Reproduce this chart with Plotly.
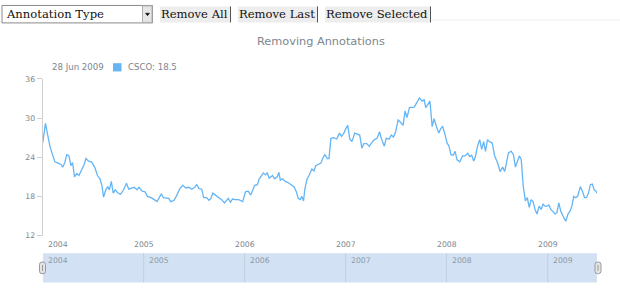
import plotly.graph_objects as go

W, H = 620, 300

# ---------------- data ----------------
dates = [
    "2004-01-02", "2004-01-12", "2004-01-21", "2004-01-28", "2004-02-05", "2004-02-15", "2004-02-27",
    "2004-03-08", "2004-03-15", "2004-03-22", "2004-03-29", "2004-04-06", "2004-04-13", "2004-04-19",
    "2004-04-26", "2004-05-04", "2004-05-12", "2004-05-22", "2004-05-31", "2004-06-06", "2004-06-16",
    "2004-06-26", "2004-07-08", "2004-07-18", "2004-07-27", "2004-08-03", "2004-08-09", "2004-08-17",
    "2004-08-24", "2004-08-30", "2004-09-06", "2004-09-13", "2004-09-20", "2004-09-28", "2004-10-09",
    "2004-10-19", "2004-10-31", "2004-11-08", "2004-11-18", "2004-11-28", "2004-12-08", "2004-12-15",
    "2004-12-27",
    "2005-01-06", "2005-01-15", "2005-01-28", "2005-02-08", "2005-02-18", "2005-02-25", "2005-03-06",
    "2005-03-13", "2005-03-23", "2005-04-02", "2005-04-09", "2005-04-21", "2005-05-01", "2005-05-12",
    "2005-05-22", "2005-06-03", "2005-06-13", "2005-06-24", "2005-07-04", "2005-07-12", "2005-07-20",
    "2005-07-30", "2005-08-06", "2005-08-17", "2005-08-25", "2005-09-01", "2005-09-08", "2005-09-19",
    "2005-09-29", "2005-10-10", "2005-10-20", "2005-10-27", "2005-11-03", "2005-11-11", "2005-11-18",
    "2005-11-29", "2005-12-11", "2005-12-25",
    "2006-01-04", "2006-01-14", "2006-01-23", "2006-01-30", "2006-02-06", "2006-02-16", "2006-02-23",
    "2006-03-03", "2006-03-10", "2006-03-17", "2006-03-24", "2006-03-31", "2006-04-12", "2006-04-19",
    "2006-04-29", "2006-05-05", "2006-05-10", "2006-05-18", "2006-05-28", "2006-06-08", "2006-06-18",
    "2006-06-28", "2006-07-07", "2006-07-14", "2006-07-21", "2006-07-27", "2006-08-02", "2006-08-07",
    "2006-08-15", "2006-08-22", "2006-09-01", "2006-09-09", "2006-09-15", "2006-09-24", "2006-10-04",
    "2006-10-11", "2006-10-18", "2006-10-27", "2006-11-02", "2006-11-09", "2006-11-19", "2006-11-30",
    "2006-12-10", "2006-12-17", "2006-12-26",
    "2007-01-02", "2007-01-09", "2007-01-16", "2007-01-24", "2007-02-03", "2007-02-13", "2007-02-21",
    "2007-03-01", "2007-03-08", "2007-03-18", "2007-03-28", "2007-04-05", "2007-04-15", "2007-04-25",
    "2007-05-04", "2007-05-11", "2007-05-21", "2007-05-28", "2007-06-08", "2007-06-15", "2007-06-23",
    "2007-07-01", "2007-07-10", "2007-07-18", "2007-07-28", "2007-08-04", "2007-08-11", "2007-08-20",
    "2007-08-27", "2007-09-06", "2007-09-16", "2007-09-25", "2007-10-05", "2007-10-12", "2007-10-18",
    "2007-10-27", "2007-11-02", "2007-11-10", "2007-11-17", "2007-11-24", "2007-12-04", "2007-12-11",
    "2007-12-18", "2007-12-25",
    "2008-01-03", "2008-01-10", "2008-01-17", "2008-01-25", "2008-02-01", "2008-02-08", "2008-02-18",
    "2008-02-28", "2008-03-08", "2008-03-18", "2008-03-25", "2008-04-01", "2008-04-08", "2008-04-15",
    "2008-04-22", "2008-04-30", "2008-05-07", "2008-05-14", "2008-05-21", "2008-05-28", "2008-06-04",
    "2008-06-14", "2008-06-23", "2008-07-03", "2008-07-13", "2008-07-22", "2008-07-29", "2008-08-05",
    "2008-08-12", "2008-08-22", "2008-08-30", "2008-09-06", "2008-09-13", "2008-09-20", "2008-09-27",
    "2008-10-04", "2008-10-12", "2008-10-19", "2008-10-26", "2008-11-02", "2008-11-09", "2008-11-16",
    "2008-11-23", "2008-12-01", "2008-12-08", "2008-12-15", "2008-12-22", "2008-12-29",
    "2009-01-05", "2009-01-12", "2009-01-19", "2009-01-27", "2009-02-03", "2009-02-10", "2009-02-17",
    "2009-02-24", "2009-03-03", "2009-03-07", "2009-03-15", "2009-03-22", "2009-03-29", "2009-04-05",
    "2009-04-12", "2009-04-19", "2009-04-29", "2009-05-07", "2009-05-14", "2009-05-21", "2009-05-28",
    "2009-06-04", "2009-06-11", "2009-06-18", "2009-06-24", "2009-06-28",
]

csco = [
    26.2, 29.2, 27.2, 25.7, 24.6, 23.3, 23.1,
    22.9, 22.5, 23.2, 24.4, 24.2, 22.7, 23.2,
    21.0, 21.5, 21.2, 22.0, 22.9, 23.8, 23.4,
    23.3, 22.5, 21.2, 20.7, 19.7, 17.9, 19.0,
    19.5, 19.0, 20.3, 18.5, 19.0, 18.6, 18.3,
    18.9, 20.0, 19.1, 19.2, 19.4, 19.0, 19.4,
    18.8,
    18.7, 18.0, 17.8, 17.5, 17.2, 17.7, 18.4,
    17.8, 17.8, 17.7, 17.2, 17.4, 18.2, 19.2,
    19.7, 19.3, 19.4, 19.1, 19.4, 19.8, 19.2,
    19.1, 17.8, 17.8, 17.4, 17.7, 18.5, 18.2,
    17.9, 17.5, 17.0, 17.3, 17.7, 17.1, 17.6,
    17.5, 17.5, 17.2,
    18.7, 18.8, 18.2, 18.9, 19.7, 19.8, 20.7,
    21.2, 21.6, 21.3, 21.6, 20.8, 21.2, 20.7,
    21.0, 21.7, 20.5, 20.7, 20.3, 20.1, 19.8,
    19.5, 18.7, 17.7, 17.5, 18.0, 17.3, 19.2,
    20.7, 21.2, 22.2, 21.9, 22.7, 22.9, 23.1,
    23.9, 24.4, 23.8, 23.8, 26.9, 27.0, 26.8,
    27.7, 27.2, 27.7,
    28.4, 28.9, 26.8, 26.4, 27.7, 27.5, 27.4,
    25.4, 26.1, 26.1, 25.7, 26.2, 26.7, 26.9,
    27.9, 26.8, 25.7, 26.9, 26.8, 27.4, 27.1,
    27.9, 29.7, 29.4, 28.9, 31.1, 30.1, 31.6,
    31.6, 31.7, 32.4, 33.1, 32.6, 32.8, 31.6,
    32.1, 32.6, 28.7, 29.9, 28.9, 27.7, 28.4,
    28.7, 27.7,
    26.2, 25.7, 24.4, 24.3, 24.9, 23.6, 23.3,
    24.2, 24.2, 24.6, 24.1, 24.3, 23.4, 24.2,
    25.7, 26.7, 25.2, 26.4, 24.9, 26.7, 26.4,
    26.2, 24.2, 23.2, 21.8, 22.5, 21.8, 23.2,
    24.7, 24.9, 24.4, 22.5, 23.4, 24.2, 23.7,
    19.7, 17.3, 17.8, 16.3, 17.5, 17.2, 16.0,
    15.3, 16.5, 16.0, 16.8, 16.5, 16.5,
    16.7, 16.0, 15.7, 15.3, 15.5, 17.0, 15.7,
    15.0, 14.5, 14.2, 15.3, 15.7, 16.5, 18.0,
    17.8, 18.0, 19.5, 18.7, 17.8, 17.8, 18.5,
    19.8, 19.9, 19.0, 18.8, 18.5,
]

series_name = "CSCO"
legend_date = "28 Jun 2009"
year_ticks = ["2004-01-01", "2005-01-01", "2006-01-01", "2007-01-01", "2008-01-01", "2009-01-01"]
year_labels = ["2004", "2005", "2006", "2007", "2008", "2009"]
y_ticks = [12, 18, 24, 30, 36]
title_text = "Removing Annotations"
select_text = "Annotation Type"
buttons = ["Remove All", "Remove Last", "Remove Selected"]

# ---------------- helpers (pixel -> paper) ----------------
def px(x):
    return x / W


def py(y):
    return 1 - y / H


LINE = "#64b5f6"
TXT = "#7c868e"
FONT = "DejaVu Sans"

fig = go.Figure()
fig.add_trace(go.Scatter(
    x=dates, y=csco, mode="lines", name=series_name,
    line=dict(color=LINE, width=1.3), hoverinfo="skip", showlegend=False,
))

shapes = []
annotations = []

# ---- toolbar ----
# select box
shapes.append(dict(type="rect", xref="paper", yref="paper", x0=px(2), x1=px(152.5), y0=py(19.5), y1=py(1.5),
                   line=dict(color="#8a8a8a", width=1), fillcolor="#ffffff", layer="above"))
shapes.append(dict(type="rect", xref="paper", yref="paper", x0=px(142.5), x1=px(152), y0=py(19), y1=py(2),
                   line=dict(color="#b0b0b0", width=1), fillcolor="#e6e6e6", layer="above"))
shapes.append(dict(type="path", xref="paper", yref="paper",
                   path=f"M {px(145.5)} {py(9.5)} L {px(149.5)} {py(9.5)} L {px(147.5)} {py(12)} Z",
                   fillcolor="#000000", line=dict(color="#000000", width=0.5), layer="above"))
annotations.append(dict(text=select_text, xref="paper", yref="paper", x=px(4), y=py(10.5),
                        xanchor="left", yanchor="middle", showarrow=False,
                        font=dict(family="DejaVu Serif", size=11.6, color="#111111")))

btn_boxes = [(160, 231), (238, 318), (325, 431)]
for label, (bx0, bx1) in zip(buttons, btn_boxes):
    shapes.append(dict(type="rect", xref="paper", yref="paper", x0=px(bx0), x1=px(bx1), y0=py(19), y1=py(2.5),
                       line=dict(width=0), fillcolor="#ededed", layer="above"))
    shapes.append(dict(type="line", xref="paper", yref="paper", x0=px(bx1 - 0.5), x1=px(bx1 - 0.5),
                       y0=py(19), y1=py(2.5), line=dict(color="#555555", width=1), layer="above"))
    annotations.append(dict(text=label, xref="paper", yref="paper", x=px((bx0 + bx1) / 2 - 1), y=py(10.5),
                            xanchor="center", yanchor="middle", showarrow=False,
                            font=dict(family="DejaVu Serif", size=11.6, color="#111111")))

# faint container border under toolbar
shapes.append(dict(type="line", xref="paper", yref="paper", x0=px(431), x1=1, y0=py(16.5), y1=py(16.5),
                   line=dict(color="#eeeeee", width=1)))

# ---- title ----
annotations.append(dict(text=title_text, xref="paper", yref="paper", x=px(320.5), y=py(39),
                        xanchor="center", yanchor="middle", showarrow=False,
                        font=dict(family=FONT, size=11.3, color=TXT)))

# ---- legend ----
annotations.append(dict(text=legend_date, xref="paper", yref="paper", x=px(49.5), y=py(65),
                        xanchor="left", yanchor="middle", showarrow=False,
                        font=dict(family=FONT, size=8.6, color=TXT)))
shapes.append(dict(type="rect", xref="paper", yref="paper", x0=px(113), x1=px(121.5), y0=py(69.5), y1=py(61),
                   line=dict(width=0), fillcolor=LINE))
annotations.append(dict(text=f"{series_name}: {csco[-1]}", xref="paper", yref="paper", x=px(125.5), y=py(65),
                        xanchor="left", yanchor="middle", showarrow=False,
                        font=dict(family=FONT, size=8.6, color=TXT)))

# ---- x-axis labels (main) ----
for i, (tv, tl) in enumerate(zip(year_ticks, year_labels)):
    if i == 0:
        annotations.append(dict(text=tl, xref="x", yref="paper", x=dates[0], y=py(247.5),
                                xanchor="left", yanchor="middle", xshift=3, showarrow=False,
                                font=dict(family=FONT, size=7.7, color=TXT)))
    else:
        annotations.append(dict(text=tl, xref="x", yref="paper", x=tv, y=py(247.5),
                                xanchor="center", yanchor="middle", showarrow=False,
                                font=dict(family=FONT, size=7.7, color=TXT)))

# ---- scroller ----
SC_TOP, SC_BOT = 257, 287
shapes.append(dict(type="rect", xref="x", yref="paper", x0=dates[0], x1=dates[-1], y0=py(SC_BOT), y1=py(SC_TOP),
                   line=dict(width=0), fillcolor="#d2e2f4", layer="below"))
for i, (tv, tl) in enumerate(zip(year_ticks, year_labels)):
    if i == 0:
        annotations.append(dict(text=tl, xref="x", yref="paper", x=dates[0], y=py(264),
                                xanchor="left", yanchor="middle", xshift=3, showarrow=False,
                                font=dict(family=FONT, size=7.7, color="#8f99a3")))
    else:
        shapes.append(dict(type="line", xref="x", yref="paper", x0=tv, x1=tv, y0=py(SC_BOT), y1=py(SC_TOP),
                           line=dict(color="#c1cfdf", width=1)))
        annotations.append(dict(text=tl, xref="x", yref="paper", x=tv, y=py(264),
                                xanchor="left", yanchor="middle", xshift=3, showarrow=False,
                                font=dict(family=FONT, size=7.7, color="#8f99a3")))


def handle_path(cx, top, bot, w=6.0, r=2.5):
    x0, x1 = cx - w / 2, cx + w / 2
    return (f"M {px(x0)} {py(top + r)} Q {px(x0)} {py(top)} {px(x0 + r)} {py(top)} "
            f"L {px(x1 - r)} {py(top)} Q {px(x1)} {py(top)} {px(x1)} {py(top + r)} "
            f"L {px(x1)} {py(bot - r)} Q {px(x1)} {py(bot)} {px(x1 - r)} {py(bot)} "
            f"L {px(x0 + r)} {py(bot)} Q {px(x0)} {py(bot)} {px(x0)} {py(bot - r)} Z")


for cx in (42.5, 598):
    shapes.append(dict(type="path", xref="paper", yref="paper", path=handle_path(cx, 266, 278),
                       fillcolor="#e4e4e4", line=dict(color="#9a9a9a", width=1), layer="above"))
    shapes.append(dict(type="line", xref="paper", yref="paper", x0=px(cx), x1=px(cx), y0=py(269), y1=py(275),
                       line=dict(color="#9a9a9a", width=1), layer="above"))

fig.update_layout(
    width=W, height=H,
    margin=dict(l=0, r=0, t=0, b=0),
    paper_bgcolor="#ffffff", plot_bgcolor="#ffffff",
    showlegend=False,
    font=dict(family=FONT, color=TXT),
    xaxis=dict(domain=[px(42.7), px(597)], range=[dates[0], dates[-1]], type="date",
               showgrid=False, zeroline=False, showline=False, showticklabels=False, ticks=""),
    yaxis=dict(domain=[py(238.7), py(77.3)], range=[12, 36], tickvals=y_ticks,
               showgrid=False, zeroline=False, showline=True, linecolor="#cfcfcf", linewidth=1,
               ticks="outside", ticklen=5, tickcolor="#cfcfcf", tickwidth=1,
               tickfont=dict(family=FONT, size=7.7, color=TXT)),
    shapes=shapes,
    annotations=annotations,
)

fig.write_html("out.html")
